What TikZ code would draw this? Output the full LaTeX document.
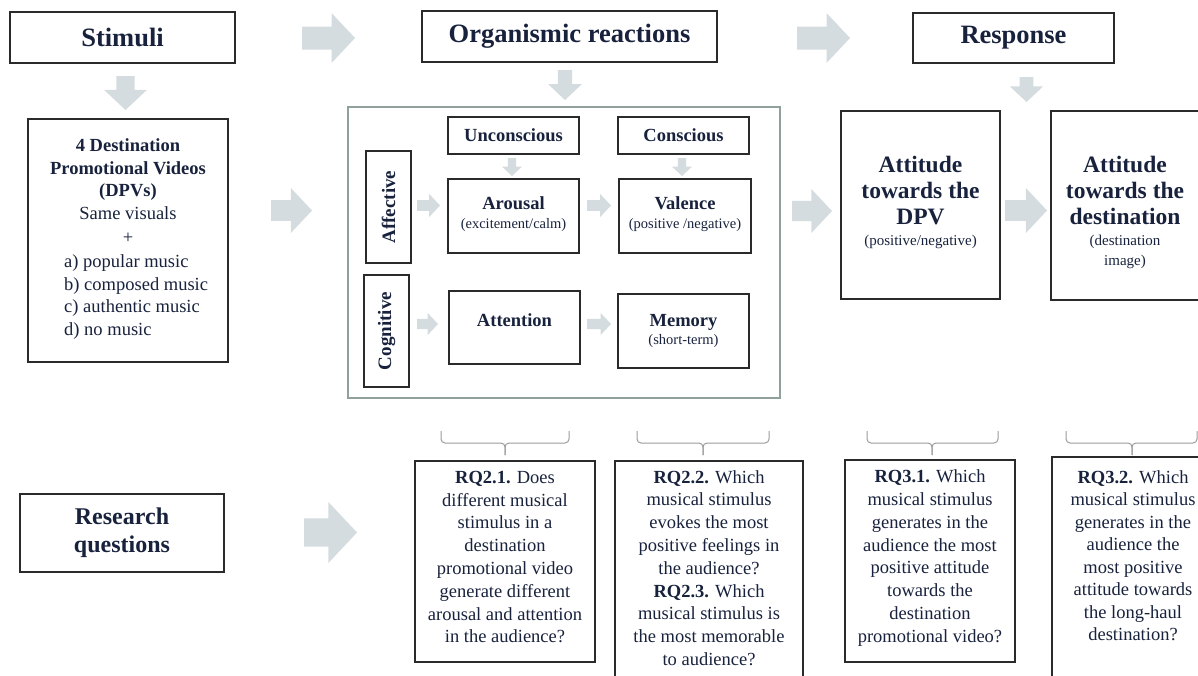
\documentclass[tikz,border=0pt]{standalone}
\usepackage{fontspec}
\setmainfont{Liberation Serif}
\definecolor{ink}{HTML}{18223D}
\definecolor{boxline}{HTML}{2A2A2A}
\definecolor{framegrey}{HTML}{8FA19A}
\definecolor{arrowfill}{HTML}{D5DCDF}
\definecolor{bracegrey}{HTML}{9C9C9C}

% font sizes used throughout
\newcommand\ftitle{\fontsize{26.5}{30}\selectfont\bfseries}
\newcommand\fbody{\fontsize{18.5}{22.8}\selectfont}
\newcommand\fsmall{\fontsize{14.5}{18.5}\selectfont\mdseries}
\newcommand\fsub{\fontsize{15}{20}\selectfont\mdseries}
\newcommand\fatt{\fontsize{23.5}{26}\selectfont\bfseries}

% block arrow pointing right inside the box (x1,y1)-(x2,y2)
\newcommand\rblock[4]{%
  \pgfmathsetmacro\bh{#4-#2}%
  \pgfmathsetmacro\bhx{#3-0.47*\bh}%
  \pgfmathsetmacro\bsa{#2+0.27*\bh}%
  \pgfmathsetmacro\bsb{#4-0.27*\bh}%
  \pgfmathsetmacro\bmy{(#2+#4)/2}%
  \fill[arrowfill] (#1,\bsa) -- (\bhx,\bsa) -- (\bhx,#2) -- (#3,\bmy)
    -- (\bhx,#4) -- (\bhx,\bsb) -- (#1,\bsb) -- cycle;}
% block arrow pointing down inside the box (x1,y1)-(x2,y2)
\newcommand\dblock[4]{%
  \pgfmathsetmacro\bw{#3-#1}%
  \pgfmathsetmacro\bhy{#4-0.47*\bw}%
  \pgfmathsetmacro\bsa{#1+0.29*\bw}%
  \pgfmathsetmacro\bsb{#3-0.29*\bw}%
  \pgfmathsetmacro\bmx{(#1+#3)/2}%
  \fill[arrowfill] (\bsa,#2) -- (\bsa,\bhy) -- (#1,\bhy) -- (\bmx,#4)
    -- (#3,\bhy) -- (\bsb,\bhy) -- (\bsb,#2) -- cycle;}
% curly grouping bracket over a research question
\newcommand\bracketover[3]{%
  \draw[brace] (#1,431) -- (#1,443) -- (#3,443) -- (#3,455);
  \draw[brace] (#2,431) -- (#2,443) -- (#3,443) -- (#3,455);}

\begin{document}
\begin{tikzpicture}[x=1pt,y=-1pt,
  box/.style={draw=boxline,line width=1.3pt,fill=white,text=ink,inner sep=0pt,align=center},
  txt/.style={text=ink,inner sep=0pt,align=center},
  brace/.style={draw=bracegrey,line width=1pt,rounded corners=4pt}]
\useasboundingbox (0,0) rectangle (1198,675);
\fill[white] (0,0) rectangle (1198,675);

% ---- column headers
\node[box,minimum width=225pt,minimum height=51pt,font=\ftitle] (stim) at (122.5,37.5) {Stimuli};
\node[box,minimum width=295pt,minimum height=51pt,font=\ftitle] (org) at (569.5,36.5) {Organismic reactions};
\node[box,minimum width=201pt,minimum height=50pt,font=\ftitle] (resp) at (1013.5,38) {Response};
\rblock{302}{13}{355}{63}
\rblock{797}{13}{850}{63}

% ---- stimuli
\dblock{104}{76}{147}{110}
\node[box,minimum width=200pt,minimum height=243pt] (dpv) at (128,240.5) {};
\node[txt,font=\fbody] (dpvhead) at (128,191) {\bfseries 4 Destination\\ \bfseries Promotional Videos\\ \bfseries (DPVs)\\ Same visuals\\[1pt] +};
\node[txt,font=\fbody,align=left,anchor=west] (dpvlist) at (64,297) {a) popular music\\ b) composed music\\ c) authentic music\\ d) no music};
\rblock{271}{188}{312}{233}

% ---- organismic reactions
\dblock{548}{70}{582}{100}
\node[draw=framegrey,line width=1.3pt,minimum width=432pt,minimum height=291pt,inner sep=0pt] (frame) at (564,252.5) {};
\node[box,minimum width=131pt,minimum height=37pt,font=\fbody\bfseries] (unc) at (513.5,135.5) {Unconscious};
\node[box,minimum width=131pt,minimum height=37pt,font=\fbody\bfseries] (con) at (683.5,135.5) {Conscious};
\dblock{502}{158}{522}{176}
\dblock{672}{158}{692}{176}
\node[box,rotate=90,minimum width=112pt,minimum height=45pt,font=\fontsize{19}{22}\selectfont\bfseries] (aff) at (388.5,207) {Affective};
\node[box,rotate=90,minimum width=112pt,minimum height=45pt,font=\fontsize{19}{22}\selectfont\bfseries] (cog) at (386.5,331) {Cognitive};
\node[box,minimum width=131pt,minimum height=74pt] (aro) at (513.5,216) {};
\node[txt,font=\fbody] (arot) at (513.5,214) {\bfseries Arousal\\[-4pt] \fsmall (excitement/calm)};
\node[box,minimum width=132pt,minimum height=74pt] (val) at (685,216) {};
\node[txt,font=\fbody] (valt) at (685,214) {\bfseries Valence\\[-4pt] \fsmall (positive /negative)};
\node[box,minimum width=131pt,minimum height=73pt] (att) at (514.5,327.5) {};
\node[txt,font=\fbody\bfseries] (attt) at (514.5,320) {Attention};
\node[box,minimum width=131pt,minimum height=74pt,font=\fbody] (mem) at (683.5,331) {\bfseries Memory\\[-4pt] \fsmall (short-term)};
\rblock{417}{194}{440}{217}
\rblock{587}{194}{611}{217}
\rblock{417}{313}{438}{335}
\rblock{587}{313}{611}{335}

% ---- response
\dblock{1010}{77}{1043}{102}
\rblock{792}{189}{832}{233}
\node[box,minimum width=159pt,minimum height=188pt] (adpv) at (920.5,205) {};
\node[txt,font=\fatt] (adpvt) at (920.5,202) {Attitude\\ towards the\\ DPV\\[-5pt] \fsub (positive/negative)};
\rblock{1005}{188}{1047}{233}
\node[box,minimum width=148pt,minimum height=189pt] (adest) at (1125,205.5) {};
\node[txt,font=\fatt] (adestt) at (1125,212.5) {Attitude\\ towards the\\ destination\\[-5pt] \fsub (destination\\[-6pt] \fsub image)};

% ---- research questions
\node[box,minimum width=204pt,minimum height=78pt,font=\fontsize{24}{28}\selectfont\bfseries] (rq) at (122,533) {Research\\ questions};
\rblock{304}{502}{357}{563}

\bracketover{441}{569}{505}
\bracketover{637}{769}{703}
\bracketover{867}{998}{932}
\bracketover{1066}{1197}{1132}

\node[box,minimum width=180pt,minimum height=201pt] (rq21) at (505,561.5) {};
\node[txt,font=\fbody] (rq21t) at (505,557)
  {\textbf{RQ2.1.} Does\\ different musical\\ stimulus in a\\ destination\\ promotional video\\ generate different\\ arousal and attention\\ in the audience?};
\node[box,minimum width=188pt,minimum height=259pt] (rq22) at (709,590.5) {};
\node[txt,font=\fbody] (rq22t) at (709,568)
  {\textbf{RQ2.2.} Which\\ musical stimulus\\ evokes the most\\ positive feelings in\\ the audience?\\ \textbf{RQ2.3.} Which\\ musical stimulus is\\ the most memorable\\ to audience?};
\node[box,minimum width=170pt,minimum height=202pt] (rq31) at (930,561) {};
\node[txt,font=\fbody] (rq31t) at (930,558)
  {\textbf{RQ3.1.} Which\\ musical stimulus\\ generates in the\\ audience the most\\ positive attitude\\ towards the\\ destination\\ promotional video?};
\node[box,minimum width=162pt,minimum height=263pt] (rq32) at (1133,588.5) {};
\node[txt,font=\fontsize{18.5}{22.5}\selectfont] (rq32t) at (1133,555.5)
  {\textbf{RQ3.2.} Which\\ musical stimulus\\ generates in the\\ audience the\\ most positive\\ attitude towards\\ the long-haul\\ destination?};
\end{tikzpicture}
\end{document}
